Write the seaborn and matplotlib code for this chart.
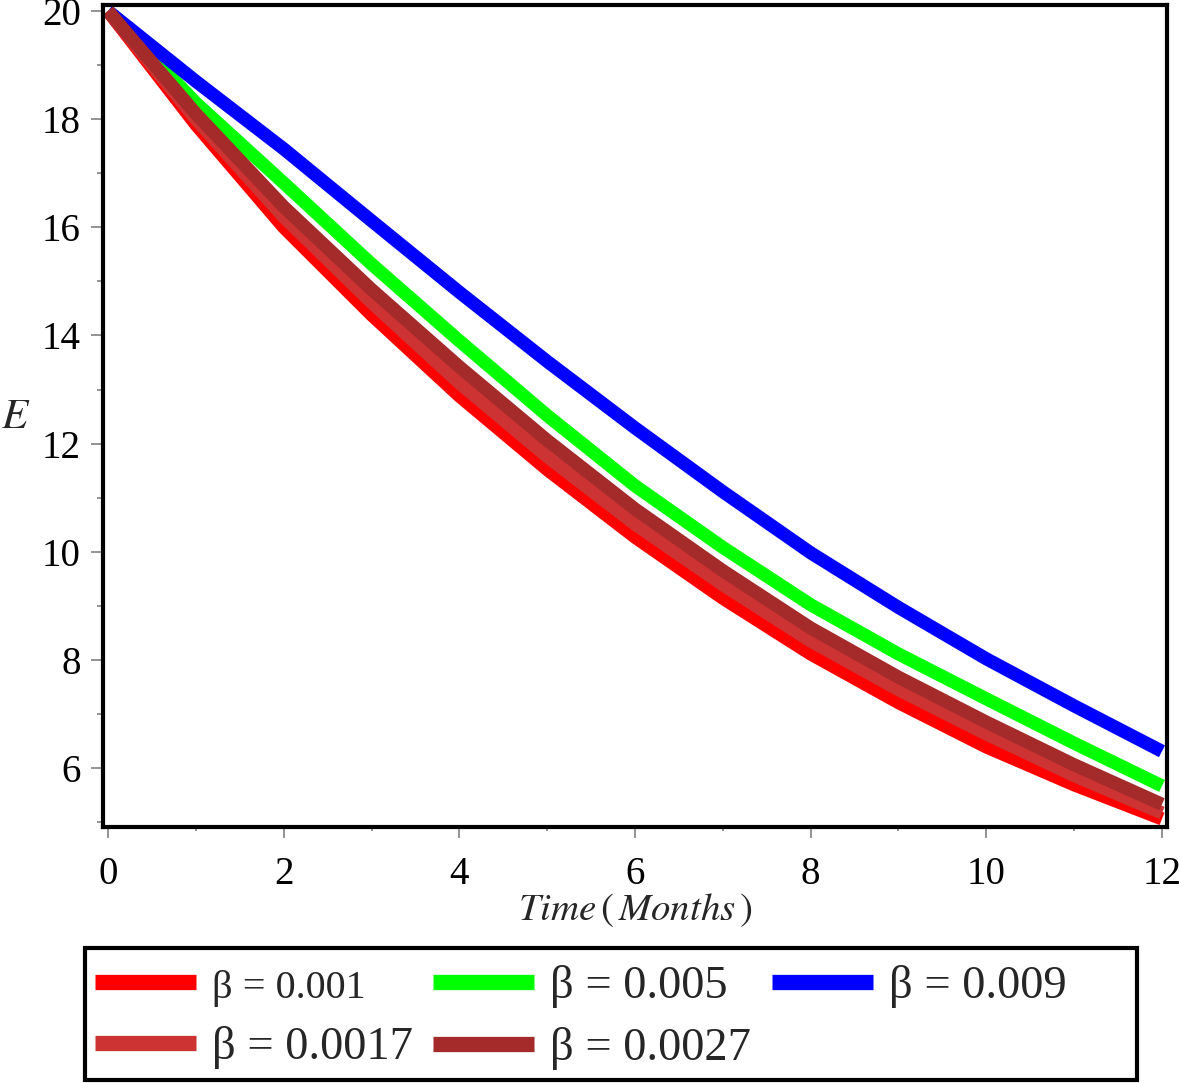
import numpy as np
import pandas as pd
import matplotlib
matplotlib.use("Agg")
import matplotlib.pyplot as plt
from matplotlib.ticker import MultipleLocator
from matplotlib.patches import Rectangle
import seaborn as sns

# values (t in months)
months = [0, 1, 2, 3, 4, 5, 6, 7, 8, 9, 10, 11, 12]
e_b0010 = [20.0, 17.90, 16.00, 14.38, 12.88, 11.52, 10.27, 9.14, 8.11, 7.21, 6.39, 5.69, 5.06]
e_b0050 = [20.0, 18.30, 16.82, 15.32, 13.90, 12.52, 11.22, 10.08, 9.02, 8.11, 7.28, 6.46, 5.67]
e_b0090 = [20.0, 18.70, 17.45, 16.12, 14.80, 13.52, 12.29, 11.11, 9.98, 8.97, 8.02, 7.15, 6.31]
e_b0017 = [20.0, 18.00, 16.19, 14.61, 13.12, 11.76, 10.51, 9.39, 8.35, 7.45, 6.63, 5.86, 5.17]
e_b0027 = [20.0, 18.10, 16.38, 14.85, 13.42, 12.06, 10.79, 9.65, 8.59, 7.68, 6.85, 6.06, 5.33]

labels = ["β = 0.001", "β = 0.005", "β = 0.009", "β = 0.0017", "β = 0.0027"]
colors = ["#FF0000", "#00FF00", "#0000FF", "#CD3333", "#A52A2A"]
series = [e_b0010, e_b0050, e_b0090, e_b0017, e_b0027]

df = pd.concat(
    [pd.DataFrame({"t": months, "E": vals, "beta": lab}) for lab, vals in zip(labels, series)],
    ignore_index=True,
)

sns.set_theme(style="white")
plt.rcParams["font.family"] = ["Liberation Serif", "DejaVu Serif"]
plt.rcParams["mathtext.fontset"] = "stix"

fig = plt.figure(figsize=(11.81, 10.83), dpi=100)
ax = fig.add_axes([103 / 1181, 1 - 827 / 1083, 1064 / 1181, 822 / 1083])

sns.lineplot(data=df, x="t", y="E", hue="beta", hue_order=labels,
             palette=dict(zip(labels, colors)), linewidth=9.5, ax=ax,
             solid_capstyle="butt", solid_joinstyle="round", legend=True)

ax.set_xlim(-0.057, 12.057)
ax.set_ylim(4.91, 20.11)
ax.xaxis.set_major_locator(MultipleLocator(2))
ax.xaxis.set_minor_locator(MultipleLocator(1))
ax.yaxis.set_major_locator(MultipleLocator(2))
ax.yaxis.set_minor_locator(MultipleLocator(1))
ax.tick_params(which="both", direction="out", color="#808080", width=1.2,
               labelsize=28, labelcolor="black", bottom=True, left=True)
ax.tick_params(axis="x", which="major", length=8, pad=13)
ax.tick_params(axis="x", which="minor", length=3)
ax.tick_params(axis="y", which="major", length=9, pad=7)
ax.tick_params(axis="y", which="minor", length=4)

for sp in ax.spines.values():
    sp.set_color("black")
    sp.set_linewidth(3)

ax.set_xlabel(r"$Time\,(\,Months\,)$", fontsize=28, va="center")
ax.xaxis.set_label_coords(0.5, -0.101)
ax.set_ylabel(r"$E$", fontsize=31, rotation=0, va="center", ha="center")
ax.yaxis.set_label_coords(-0.082, 0.4976)

handles, _ = ax.get_legend_handles_labels()
ax.get_legend().remove()
# matplotlib fills legend columns first; reorder so entries run across rows
order = [0, 3, 1, 4, 2]
leg = fig.legend([handles[i] for i in order], [labels[i] for i in order],
                 ncol=3, loc="upper left",
                 bbox_to_anchor=(95 / 1181, 1 - 965 / 1083),
                 frameon=False, handlelength=2.2, handletextpad=0.35,
                 columnspacing=0.45, borderpad=0, borderaxespad=0,
                 labelspacing=0.42, fontsize=33)
for line in leg.get_lines():
    line.set_linewidth(11)
    line.set_solid_capstyle("butt")
sizes = {"β = 0.001": 29, "β = 0.005": 33.5, "β = 0.009": 33.5,
         "β = 0.0017": 33.5, "β = 0.0027": 33.5}
for txt in leg.get_texts():
    txt.set_fontsize(sizes[txt.get_text()])

# legend frame as in the reference (wider than its contents)
fig.patches.append(Rectangle((85 / 1181, 1 - 1080 / 1083), 1052 / 1181, 132 / 1083,
                             transform=fig.transFigure, fill=False,
                             edgecolor="black", linewidth=3))

fig.savefig("out.png", dpi=100)
